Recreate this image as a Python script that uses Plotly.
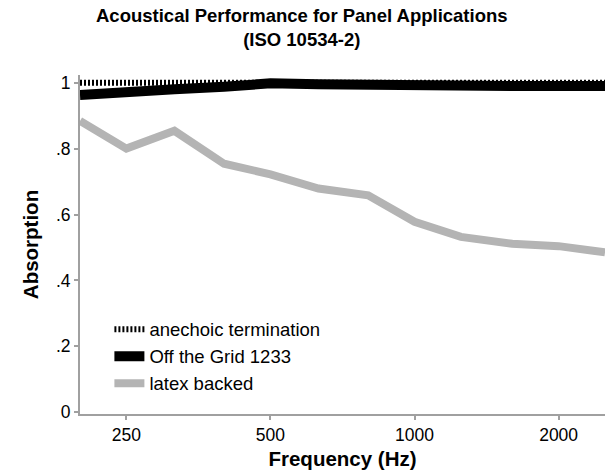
import math
import plotly.graph_objects as go

# Data (third-octave band centre frequencies, Hz)
freqs = [200, 250, 315, 400, 500, 630, 800, 1000, 1250, 1600, 2000, 2500]
anechoic = [1.0, 1.0, 1.0, 1.0, 1.0, 1.0, 1.0, 1.0, 1.0, 1.0, 1.0, 1.0]
off_grid = [0.963, 0.975, 0.980, 0.988, 0.998, 0.995, 0.992, 0.990, 0.990, 0.990, 0.990, 0.990]
latex = [0.884, 0.800, 0.854, 0.754, 0.722, 0.679, 0.658, 0.578, 0.532, 0.511, 0.504, 0.485]

series_names = ["anechoic termination", "Off the Grid 1233", "latex backed"]
x_tick_vals = [250, 500, 1000, 2000]
x_tick_text = ["250", "500", "1000", "2000"]
y_tick_vals = [0, 0.2, 0.4, 0.6, 0.8, 1.0]
y_tick_text = ["0", ".2", ".4", ".6", ".8", "1"]
title_lines = ["Acoustical Performance for Panel Applications", "(ISO 10534-2)"]

FONT = "Liberation Sans, Arial, Helvetica, sans-serif"
AXIS_COLOR = "#a0a0a0"

fig = go.Figure()
fig.add_trace(go.Scatter(
    x=freqs, y=anechoic, mode="lines", name=series_names[0],
    line=dict(color="black", width=6, dash="2px,2px"),
))
fig.add_trace(go.Scatter(
    x=freqs, y=off_grid, mode="lines", name=series_names[1],
    line=dict(color="black", width=10),
))
fig.add_trace(go.Scatter(
    x=freqs, y=latex, mode="lines", name=series_names[2],
    line=dict(color="#b4b4b4", width=8),
))

fig.update_layout(
    width=605, height=472,
    margin=dict(l=80, r=0, t=75, b=58),
    paper_bgcolor="white", plot_bgcolor="white",
    font=dict(family=FONT, size=17, color="black"),
    showlegend=True,
    legend=dict(
        x=0.056, y=0.305, xanchor="left", yanchor="top",
        bgcolor="rgba(0,0,0,0)", itemwidth=30,
        font=dict(family=FONT, size=18.5, color="black"),
        tracegroupgap=0,
    ),
    annotations=[dict(
        text="<b>" + "<br>".join(title_lines) + "</b>",
        xref="paper", yref="paper", x=(302 - 80) / 525, y=1 + (75 - 27) / 339,
        xanchor="center", yanchor="middle", showarrow=False,
        font=dict(family=FONT, size=18.5, color="black"),
    )],
    xaxis=dict(
        type="log",
        range=[math.log10(200), math.log10(2500)],
        tickvals=x_tick_vals, ticktext=x_tick_text,
        ticks="outside", ticklen=4, tickwidth=2, tickcolor=AXIS_COLOR,
        showline=True, linecolor=AXIS_COLOR, linewidth=2,
        showgrid=False, zeroline=False,
        tickfont=dict(family=FONT, size=17.5),
        title=dict(text="<b>Frequency (Hz)</b>", font=dict(family=FONT, size=20.5), standoff=8),
    ),
    yaxis=dict(
        range=[-0.0055, 1.0234],
        tickvals=y_tick_vals, ticktext=y_tick_text,
        ticks="outside", ticklen=4, tickwidth=2, tickcolor=AXIS_COLOR,
        showline=True, linecolor=AXIS_COLOR, linewidth=2,
        showgrid=False, zeroline=False,
        tickfont=dict(family=FONT, size=17.5),
        title=dict(text="<b>Absorption</b>", font=dict(family=FONT, size=20.5), standoff=12),
    ),
)

fig.write_html(
    "out.html",
    config={"displayModeBar": False},
    post_script="document.body.style.margin='0px';",
)
